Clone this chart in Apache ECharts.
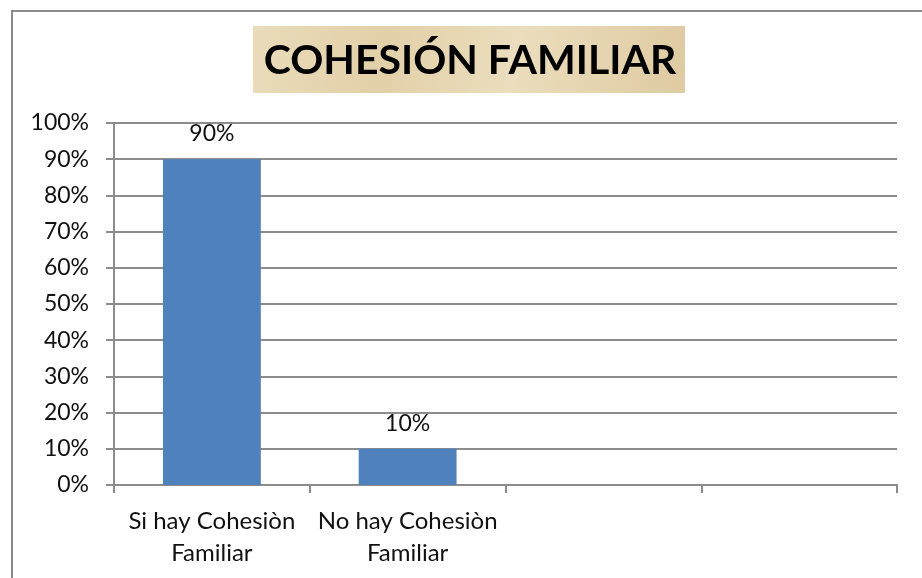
<!DOCTYPE html>
<html>
<head>
<meta charset="utf-8">
<script src="https://cdn.jsdelivr.net/npm/echarts@6/dist/echarts.min.js"></script>
<style>html,body{margin:0;padding:0;background:#fff}#c{width:922px;height:578px}</style>
</head>
<body>
<div id="c"></div>
<script>
var titleText = 'COHESIÓN FAMILIAR';
var categories = ['Si hay Cohesiòn\nFamiliar', 'No hay Cohesiòn\nFamiliar', '', ''];
var values = [90, 10, null, null];
var yTicks = [0, 10, 20, 30, 40, 50, 60, 70, 80, 90, 100];

var FONT = 'Lato';
var chart = echarts.init(document.getElementById('c'), null, {renderer: 'canvas'});
chart.setOption({
  animation: false,
  backgroundColor: '#ffffff',
  grid: {left: 114, right: 25, top: 123, bottom: 93, containLabel: false},
  xAxis: {
    type: 'category',
    data: categories,
    axisLine: {show: true, lineStyle: {color: '#8c8c8c', width: 2}},
    axisTick: {show: true, length: 8, lineStyle: {color: '#8c8c8c', width: 2}},
    axisLabel: {color: '#111', fontFamily: FONT, fontSize: 24, lineHeight: 32, margin: 20, interval: 0}
  },
  yAxis: {
    type: 'value',
    min: yTicks[0],
    max: yTicks[yTicks.length - 1],
    interval: 10,
    axisLine: {show: true, lineStyle: {color: '#8c8c8c', width: 2}},
    axisTick: {show: true, length: 8, lineStyle: {color: '#8c8c8c', width: 2}},
    splitLine: {show: true, lineStyle: {color: '#8c8c8c', width: 2}},
    axisLabel: {color: '#111', fontFamily: FONT, fontSize: 23, margin: 25, formatter: '{value}%'}
  },
  series: [{
    type: 'bar',
    data: values,
    barWidth: '50%',
    itemStyle: {color: '#4F81BD'},
    label: {show: true, position: 'top', distance: 14, color: '#111', fontFamily: FONT, fontSize: 23, formatter: '{c}%'}
  }],
  graphic: [
    {type: 'rect', shape: {x: 12, y: 11, width: 920, height: 600}, style: {fill: 'none', stroke: '#8c8c8c', lineWidth: 2}, silent: true, z: 100},
    {type: 'rect', shape: {x: 253, y: 26, width: 432, height: 67},
      style: {fill: new echarts.graphic.LinearGradient(0, 0, 1, 1, [
        {offset: 0, color: '#EADCBB'}, {offset: 0.3, color: '#E2D0A8'}, {offset: 0.6, color: '#EBDDBD'}, {offset: 1, color: '#DFCBA2'}
      ])}, z: 10},
    {type: 'text', x: 470, y: 61, style: {text: titleText, fill: '#000', font: 'bold 41px ' + FONT, align: 'center', verticalAlign: 'middle'}, z: 11}
  ]
});
</script>
</body>
</html>
